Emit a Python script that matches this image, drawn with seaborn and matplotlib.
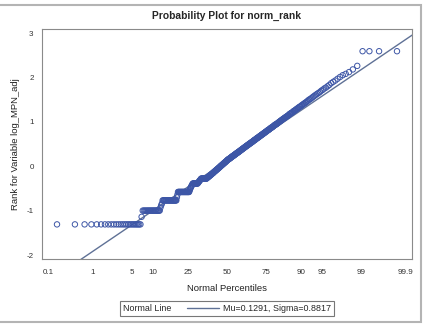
import numpy as np
import pandas as pd
import seaborn as sns
import matplotlib
matplotlib.use("Agg")
import matplotlib.pyplot as plt
from matplotlib.lines import Line2D
from matplotlib.patches import Rectangle
from statistics import NormalDist

# tied normal-rank levels in the lower tail, with number of obs at each level
tie_levels = [-1.31, -1.14, -1.00, -0.93, -0.88, -0.84, -0.77, -0.70, -0.64, -0.58,
              -0.55, -0.52, -0.49, -0.47, -0.45, -0.43, -0.41, -0.39,
              -0.37, -0.36, -0.35, -0.33, -0.32, -0.31, -0.30, -0.28]
tie_counts = [26, 1, 20, 1, 1, 1, 23, 1, 1, 23,
              1, 1, 1, 1, 1, 1, 1, 12,
              1, 1, 1, 1, 1, 1, 1, 14]

# ranks along the straight part (sorted)
mid_ranks = [
    -0.27, -0.26, -0.25, -0.25, -0.24, -0.23, -0.22, -0.22, -0.21, -0.20,
    -0.19, -0.19, -0.18, -0.17, -0.16, -0.16, -0.15, -0.14, -0.13, -0.12,
    -0.12, -0.11, -0.10, -0.09, -0.09, -0.08, -0.07, -0.06, -0.06, -0.05,
    -0.04, -0.03, -0.03, -0.02, -0.01, 0.00, 0.01, 0.01, 0.02, 0.03,
    0.04, 0.04, 0.05, 0.06, 0.07, 0.07, 0.08, 0.09, 0.10, 0.10,
    0.11, 0.12,
    0.13, 0.14, 0.14, 0.15, 0.16, 0.16, 0.17, 0.17, 0.18, 0.19,
    0.19, 0.20, 0.21, 0.21, 0.22, 0.23, 0.23, 0.24, 0.24, 0.25,
    0.26, 0.26, 0.27, 0.28, 0.28, 0.29, 0.30, 0.30, 0.31, 0.31,
    0.32, 0.33, 0.33, 0.34, 0.35, 0.35, 0.36, 0.37, 0.37, 0.38,
    0.39, 0.39, 0.40, 0.41, 0.41, 0.42, 0.43, 0.43, 0.44, 0.45,
    0.45, 0.46, 0.47, 0.47, 0.48, 0.49, 0.49, 0.50, 0.51, 0.51,
    0.52, 0.53, 0.53, 0.54, 0.55, 0.55, 0.56, 0.57, 0.58, 0.58,
    0.59, 0.60, 0.60, 0.61, 0.62, 0.63, 0.63, 0.64, 0.65, 0.65,
    0.66, 0.67, 0.68, 0.68, 0.69, 0.70, 0.71, 0.71, 0.72, 0.73,
    0.74, 0.74, 0.75, 0.76, 0.77, 0.78, 0.78, 0.79, 0.80, 0.81,
    0.82, 0.82, 0.83, 0.84, 0.85, 0.86, 0.87, 0.87, 0.88, 0.89,
    0.90, 0.91, 0.92, 0.93, 0.94, 0.94, 0.95, 0.96, 0.97, 0.98,
    0.99, 1.00, 1.01, 1.02, 1.03, 1.04, 1.05, 1.06, 1.07, 1.08,
    1.09, 1.10, 1.11, 1.12, 1.13, 1.14, 1.15, 1.17, 1.18, 1.19,
    1.20, 1.21, 1.22, 1.24, 1.25, 1.26, 1.27, 1.29, 1.30, 1.31,
    1.33, 1.34, 1.35, 1.37, 1.38, 1.40, 1.41, 1.43, 1.44, 1.46,
    1.48, 1.50, 1.51, 1.53, 1.55, 1.57, 1.59, 1.61, 1.63, 1.65,
    1.67, 1.70, 1.72, 1.75, 1.77, 1.80, 1.83, 1.87, 1.90, 1.93,
    1.97, 2.01, 2.05, 2.08, 2.12, 2.18, 2.26,
]

# the four top observations
top_ranks = [2.59, 2.59, 2.59, 2.59]

# fitted normal line
mu = 0.1291
sigma = 0.8817

pct_ticks = [0.1, 1, 5, 10, 25, 50, 75, 90, 95, 99, 99.9]
pct_labels = ["0.1", "1", "5", "10", "25", "50", "75", "90", "95", "99", "99.9"]

blue = "#3d56a6"
line_col = "#5f7196"
axis_col = "#8a8a8a"

# build the data: sorted ranks vs normal quantiles of Blom plotting positions
y = np.sort(np.concatenate([np.repeat(tie_levels, tie_counts), mid_ranks, top_ranks]))
n = len(y)
nd = NormalDist()
q = [nd.inv_cdf((i - 0.375) / (n + 0.25)) for i in range(1, n + 1)]
df = pd.DataFrame({"q": q, "rank": y})

sns.set_style("white")
plt.rcParams["font.family"] = ["Liberation Sans", "DejaVu Sans"]
plt.rcParams["axes.unicode_minus"] = False

fig = plt.figure(figsize=(4.25, 3.26), dpi=100)
ax = fig.add_axes([0.0988, 0.2055, 0.8706, 0.7055])

# normal line
xs = np.array([-3.3, 3.3])
sns.lineplot(x=xs, y=mu + sigma * xs, ax=ax, color=line_col, linewidth=1.0)

# points
sns.scatterplot(data=df, x="q", y="rank", ax=ax, marker="o", s=15,
                fc="none", ec=blue, linewidth=0.7, zorder=3)

ax.set_xlim(-3.2, 3.2)
ax.set_ylim(-2.09, 3.09)
ax.set_xticks([nd.inv_cdf(p / 100) for p in pct_ticks])
ax.set_xticklabels(pct_labels)
ax.set_yticks([-2, -1, 0, 1, 2, 3])

for sp in ax.spines.values():
    sp.set_color(axis_col)
    sp.set_linewidth(0.8)
ax.tick_params(direction="out", length=3, width=0.8, color=axis_col,
               labelsize=5.8, labelcolor="#333333")
ax.tick_params(axis="x", pad=4)
ax.tick_params(axis="y", pad=3)

ax.set_xlabel("Normal Percentiles", fontsize=6.8, labelpad=6, color="#222222")
ax.set_ylabel("Rank for Variable log_MPN_adj", fontsize=6.8, labelpad=5, color="#222222")
ax.set_title("Probability Plot for norm_rank", fontsize=7.4, fontweight="bold", pad=7)

# legend: "Normal Line" label then the line sample with fit values
handles = [Line2D([], [], color="none"), Line2D([], [], color=line_col, lw=1.0)]
leg = fig.legend(handles=handles, labels=["Normal Line", "Mu=0.1291, Sigma=0.8817"],
                 ncol=2, loc="center", bbox_to_anchor=(227 / 425, 1 - 308.3 / 326),
                 fontsize=6.4, frameon=True, fancybox=False, edgecolor="#555555",
                 handlelength=3.6, handletextpad=0.45, columnspacing=1.65,
                 borderpad=0.35, borderaxespad=0)
leg.get_frame().set_linewidth(0.8)
# drop the empty handle in front of "Normal Line"
first_item = leg._legend_handle_box.get_children()[0].get_children()[0]
first_item.get_children()[0].width = 0
first_item.sep = 0

# outer frame of the graph
fig.patches.append(Rectangle((-2 / 425, 1 - 321.5 / 326), 422.5 / 425, 317 / 326,
                             transform=fig.transFigure, fill=False,
                             edgecolor="#b4b4b4", linewidth=1.5))

fig.savefig("out.png", dpi=100)
